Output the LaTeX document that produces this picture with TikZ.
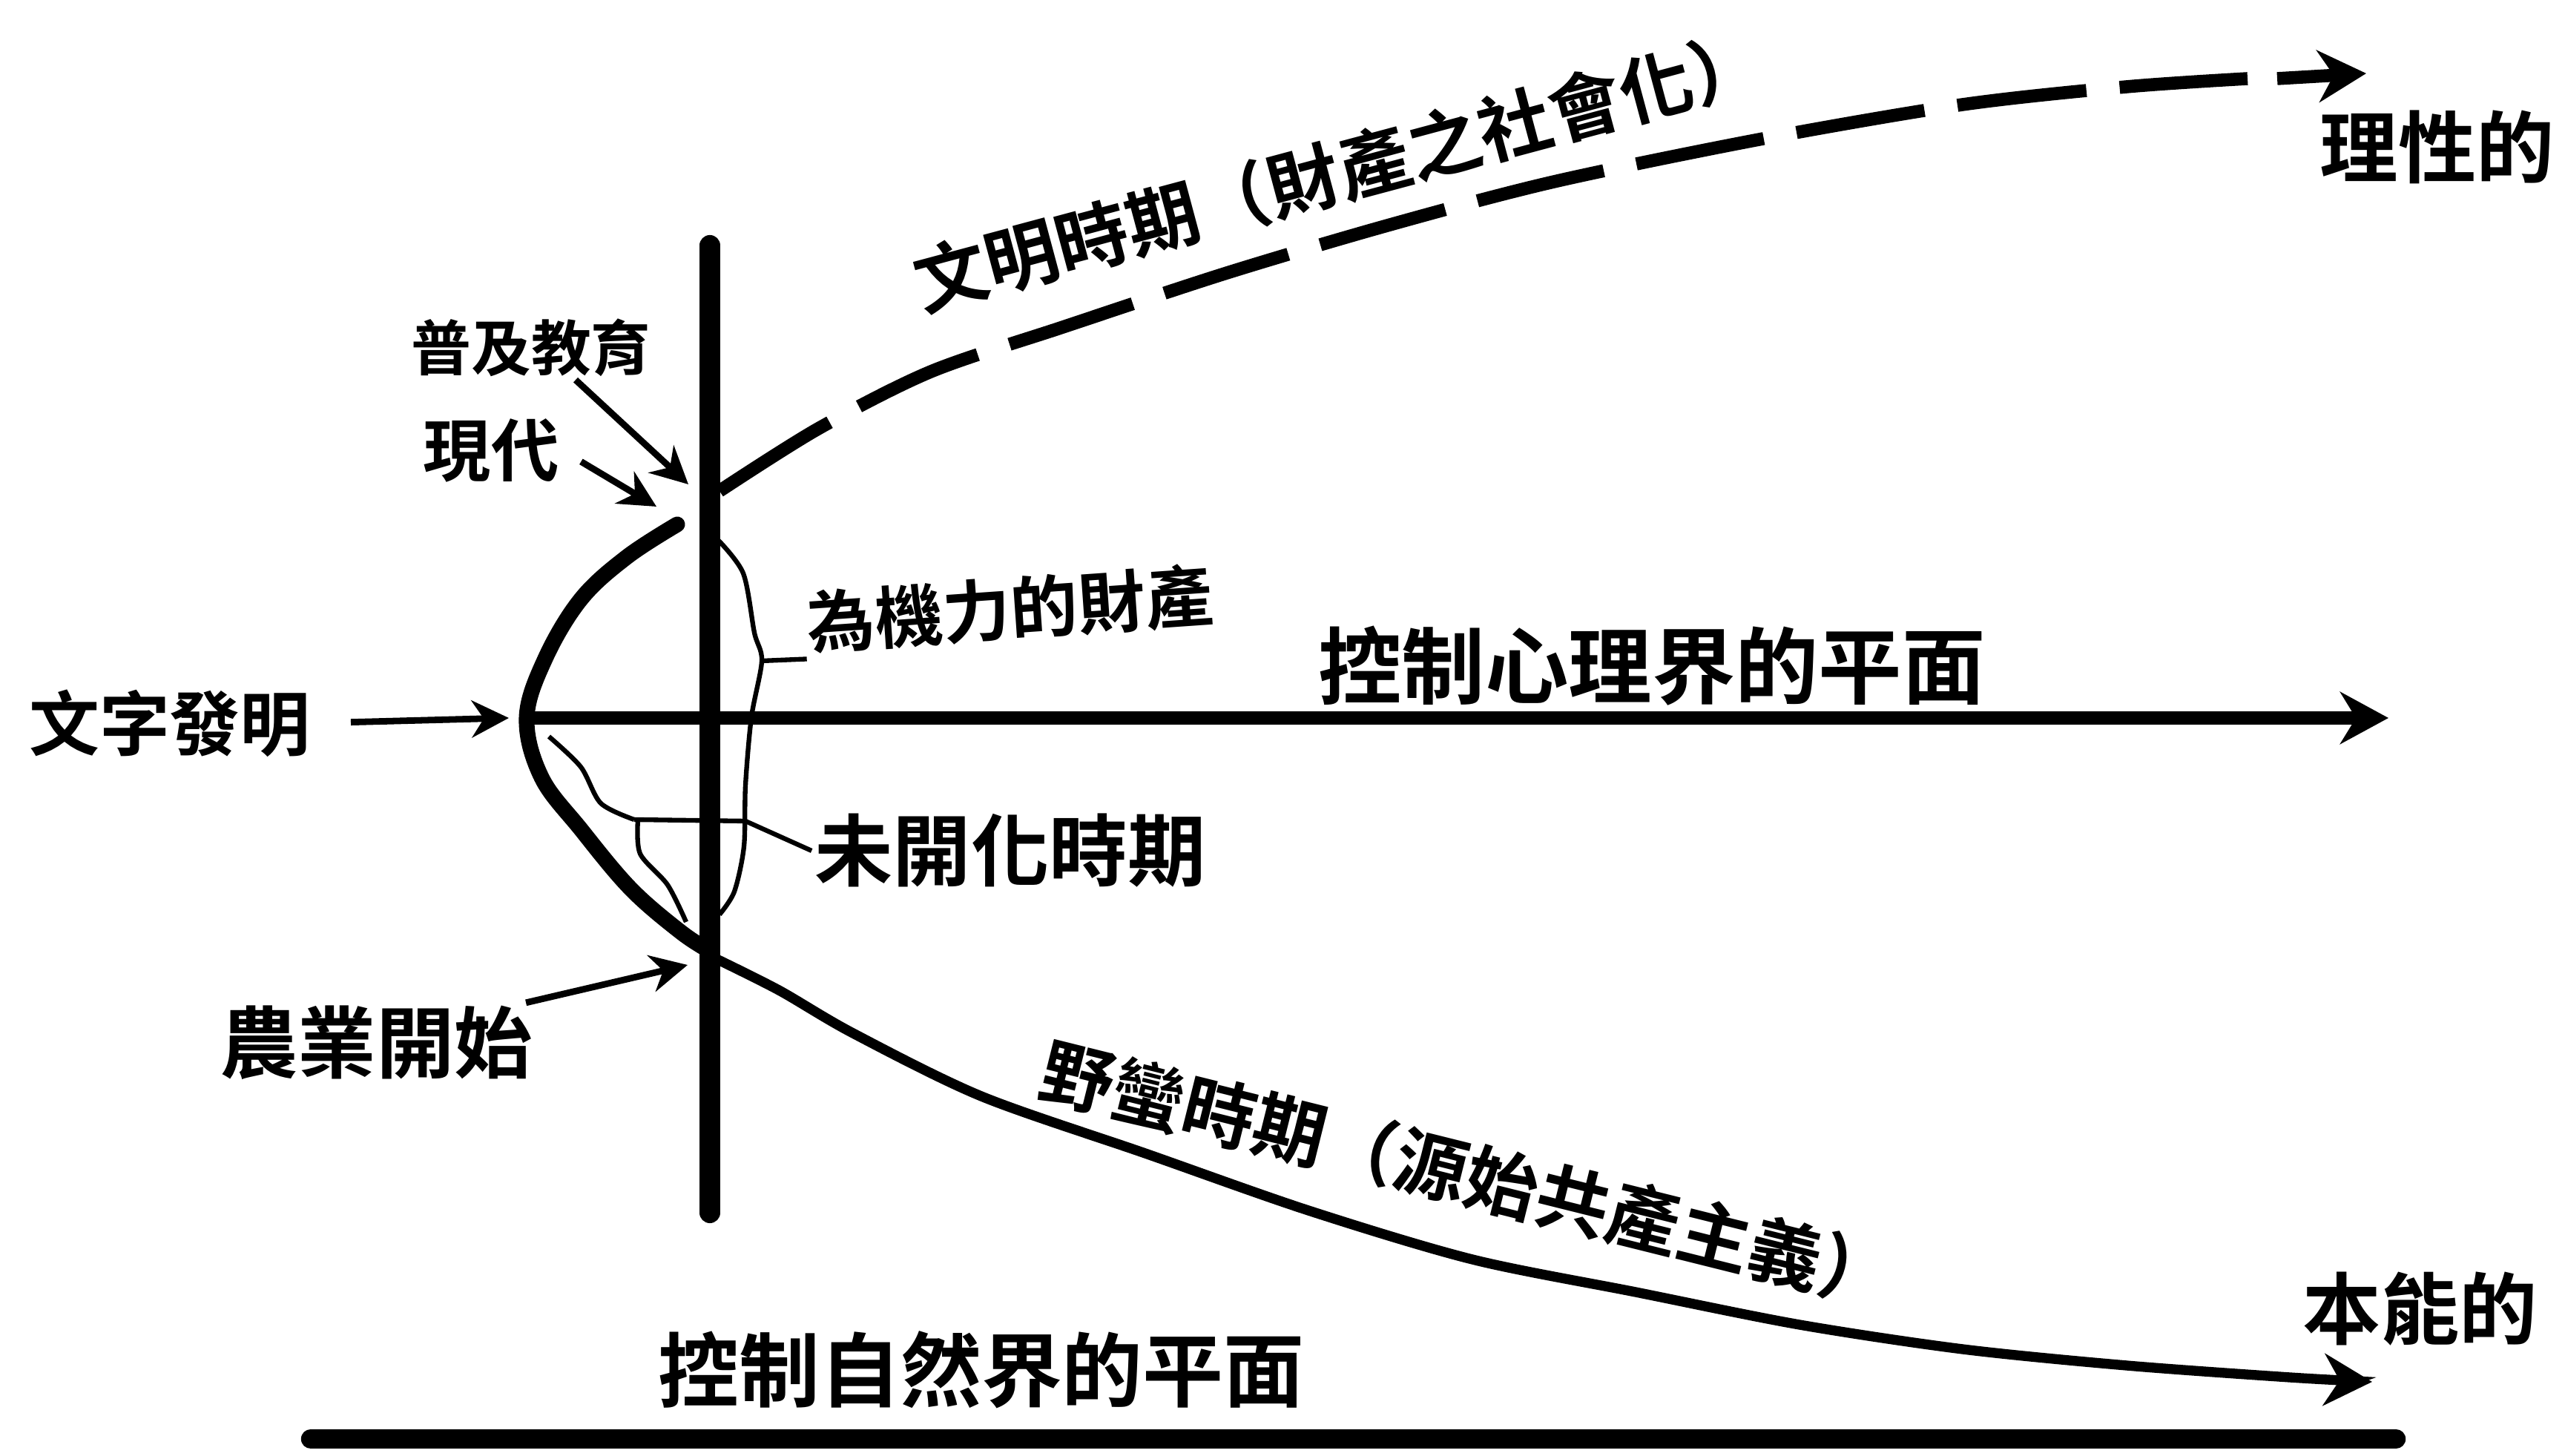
\documentclass[tikz,border=0pt]{standalone}
\usepackage{fontspec}
\newfontfamily\cjk{Noto Sans CJK TC}[BoldFont={Noto Sans CJK TC Bold}]
\usetikzlibrary{positioning}
\usetikzlibrary{arrows.meta}
\tikzset{
    txt/.style={
        font=\cjk\bfseries\fontsize{#1}{#1}\selectfont,
        inner sep=1pt
    },
    txt/.default=28,
    pointer/.style={
        draw,
        ->,>={Stealth[length=5mm,width=5mm]},
        line width=2.5pt
    },
    thinline/.style={
        draw,
        line width=1.8pt
    },
    bigtip/.style={
        ->,>={Stealth[length=6.5mm,width=7mm]}
    }
}

\begin{document}
\begin{tikzpicture}
    \useasboundingbox (0,0) rectangle (34.58,19.63);

    % stem and the two planes
    \coordinate (stemtop) at (9.57,16.32);
    \coordinate (stembot) at (9.57,3.28);
    \coordinate (vertex) at (7.10,9.95);
    \coordinate (midend) at (32.2,9.95);
    \coordinate (floorl) at (4.19,0.23);
    \coordinate (floorr) at (32.3,0.23);

    \draw[line width=8pt, line cap=round] (stemtop) -- (stembot);
    \draw[line width=5pt, bigtip] (vertex) -- (midend);
    \draw[line width=7.5pt, line cap=round] (floorl) -- (floorr);

    % the bend
    \draw[line width=6pt, line cap=round] plot[smooth, tension=0.6] coordinates {
        (9.13,12.56) (8.45,12.12) (7.83,11.55) (7.35,10.75) (7.10,9.95)
        (7.30,9.15) (7.83,8.45) (8.50,7.65) (9.17,7.07) (9.55,6.82)};

    % upper branch
    \coordinate (upend) at (30.30,18.57);
    \coordinate (uptip) at (31.90,18.64);
    \draw[line width=5pt, dash pattern=on 1.75cm off 0.45cm] plot[smooth] coordinates {
        (9.70,13.01) (11.03,13.85) (12.55,14.62) (14.33,15.22) (16.54,15.95)
        (18.74,16.60) (20.95,17.18) (23.77,17.76) (26.46,18.22) (28.67,18.46) (30.30,18.57)};
    \draw[line width=5pt, bigtip] ([xshift=4mm]upend) -- (uptip);

    % lower branch
    \draw[line width=3.8pt, bigtip] plot[smooth] coordinates {
        (9.62,6.72) (10.50,6.28) (11.50,5.70) (13.23,4.85) (15.44,4.08)
        (17.64,3.31) (19.85,2.65) (22.05,2.21) (24.26,1.77) (26.46,1.44)
        (28.67,1.22) (30.87,1.06) (31.98,1.00)};

    % labels
    \node[txt=27] (wenzi) at (2.29,9.88) {文字發明};
    \node[txt=30] (nongye) at (5.07,5.57) {農業開始};
    \node[txt=23] (puji) at (7.16,14.94) {普及教育};
    \node[txt=26] (xiandai) at (6.62,13.56) {現代};
    \node[txt=26, rotate=4] (jiqi) at (13.62,11.42) {為機力的財產};
    \node[txt=30] (weikai) at (13.62,8.16) {未開化時期};
    \node[txt=32] (xinli) at (22.27,10.65) {控制心理界的平面};
    \node[txt=31] (ziran) at (13.23,1.16) {控制自然界的平面};
    \node[txt=30] (lixing) at (32.86,17.65) {理性的};
    \node[txt=30] (benneng) at (32.63,1.98) {本能的};
    \node[txt=28, rotate=15] (wenming) at (18.05,17.32) {文明時期（財產之社會化）};
    \node[txt=28, rotate=-14] (yeman) at (19.78,3.80) {野蠻時期（源始共產主義）};

    % pointers
    \coordinate (wzarrow) at (6.86,9.95);
    \coordinate (nyarrow) at (9.27,6.62);
    \coordinate (pjarrow) at (9.28,13.10);
    \coordinate (xdarrow) at (8.85,12.80);

    \draw[pointer, shorten <=5mm] (wenzi.east) -- (wzarrow);
    \draw[pointer] (nongye.15) -- (nyarrow);
    \draw[pointer] ([xshift=6mm]puji.south) -- (pjarrow);
    \draw[pointer, shorten <=3mm] (xiandai.east) -- (xdarrow);

    % thin lines inside the bend
    \coordinate (rjoin) at (10.27,10.72);
    \coordinate (ljoin) at (8.55,8.58);
    \coordinate (lright) at (10.05,8.56);
    \draw[thinline] plot[smooth] coordinates {
        (9.68,12.35) (10.02,11.90) (10.17,11.10) (10.27,10.72)
        (10.13,9.96) (10.05,9.04) (10.03,8.22) (9.90,7.61) (9.70,7.30)};
    \draw[thinline] (rjoin) -- (jiqi.south west);
    \draw[thinline] plot[smooth] coordinates {
        (7.40,9.70) (7.83,9.29) (8.10,8.80) (8.55,8.58)};
    \draw[thinline] (ljoin) -- (lright) -- (weikai.west);
    \draw[thinline] plot[smooth] coordinates {
        (8.60,8.58) (8.63,8.12) (9.00,7.70) (9.25,7.20)};
\end{tikzpicture}
\end{document}
